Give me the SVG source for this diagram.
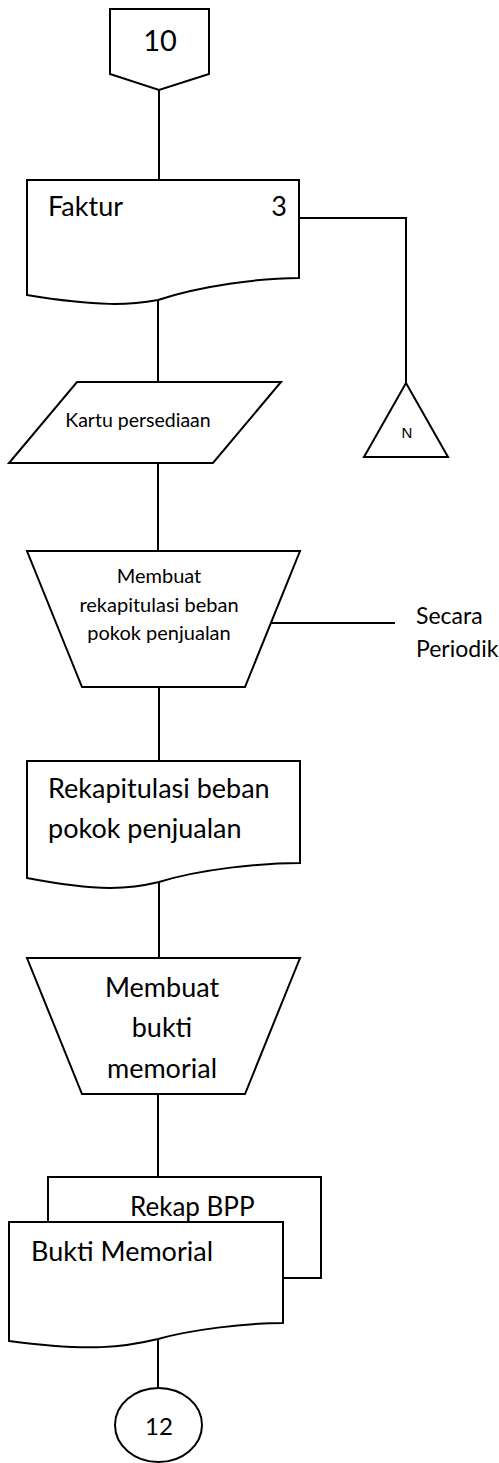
<svg xmlns="http://www.w3.org/2000/svg" width="499" height="1463" viewBox="0 0 499 1463">
  <style>
    .shape { fill: #ffffff; stroke: #000000; stroke-width: 2; stroke-linejoin: miter; }
    .line { fill: none; stroke: #000000; stroke-width: 2; }
    .t { font-family: Lato, "Open Sans", "Liberation Sans", sans-serif; fill: #000000; }
    .mid { text-anchor: middle; }
  </style>
  <rect x="0" y="0" width="499" height="1463" fill="#ffffff"/>

  <!-- connectors -->
  <g id="connectors">
    <path class="line" d="M159,90 V180"/>
    <path class="line" d="M299,218 H406 V383"/>
    <path class="line" d="M158,300 V382"/>
    <path class="line" d="M158,463 V551"/>
    <path class="line" d="M271,623 H395"/>
    <path class="line" d="M159,687 V761"/>
    <path class="line" d="M159,882 V958"/>
    <path class="line" d="M158,1094 V1177"/>
    <path class="line" d="M158,1339 V1388"/>
  </g>

  <!-- off-page connector 10 -->
  <g id="offpage-10">
    <polygon class="shape" points="110,9 209,9 209,74 159,90 110,74"/>
    <text class="t mid" x="160" y="51" font-size="29">10</text>
  </g>

  <!-- document: Faktur 3 -->
  <g id="doc-faktur">
    <path class="shape" d="M27,180 H299 V278 C260,278 200,286 158,300 C130,305 100,307 27,295 Z"/>
    <text class="t" x="48" y="216" font-size="27">Faktur</text>
    <text class="t" x="287" y="216" font-size="27" text-anchor="end">3</text>
  </g>

  <!-- offline storage N -->
  <g id="storage-n">
    <polygon class="shape" points="406,383 448,457 364,457"/>
    <text x="407" y="438" font-size="15" text-anchor="middle" font-family="'Liberation Sans', Arial, sans-serif">N</text>
  </g>

  <!-- input/output: Kartu persediaan -->
  <g id="io-kartu">
    <polygon class="shape" points="77,382 281,382 213,463 9,463"/>
    <text class="t mid" x="138" y="427" font-size="19.5">Kartu persediaan</text>
  </g>

  <!-- manual operation: rekapitulasi -->
  <g id="manual-rekap">
    <polygon class="shape" points="27,551 300,551 245,687 82,687"/>
    <text class="t mid" x="159" y="583" font-size="20">Membuat</text>
    <text class="t mid" x="159" y="612" font-size="20">rekapitulasi beban</text>
    <text class="t mid" x="159" y="640" font-size="20">pokok penjualan</text>
  </g>

  <!-- annotation -->
  <g id="note-periodik">
    <text class="t" x="416" y="624" font-size="23">Secara</text>
    <text class="t" x="416" y="657" font-size="23">Periodik</text>
  </g>

  <!-- document: Rekapitulasi beban pokok penjualan -->
  <g id="doc-rekap">
    <path class="shape" d="M27,761 H300 V863 C261,863 201,869 159,882 C130,889 100,892 27,878 Z"/>
    <text class="t" x="48" y="798" font-size="27">Rekapitulasi beban</text>
    <text class="t" x="48" y="838" font-size="27">pokok penjualan</text>
  </g>

  <!-- manual operation: bukti memorial -->
  <g id="manual-memorial">
    <polygon class="shape" points="27,958 300,958 245,1094 82,1094"/>
    <text class="t mid" x="162" y="997" font-size="27">Membuat</text>
    <text class="t mid" x="162" y="1037" font-size="27">bukti</text>
    <text class="t mid" x="162" y="1078" font-size="27">memorial</text>
  </g>

  <!-- multi-document: Rekap BPP / Bukti Memorial -->
  <g id="multidoc">
    <path class="shape" d="M48,1222 V1177 H321 V1278 H283"/>
    <text class="t" x="130" y="1216" font-size="26">Rekap BPP</text>
    <path class="shape" d="M9,1222 H283 V1323 C244,1323 190,1330 158,1339 C125,1347 90,1352 9,1341 Z"/>
    <text class="t" x="31" y="1261" font-size="27">Bukti Memorial</text>
  </g>

  <!-- on-page connector 12 -->
  <g id="connector-12">
    <ellipse class="shape" cx="158.5" cy="1425" rx="43.5" ry="37"/>
    <text class="t mid" x="159" y="1435" font-size="24">12</text>
  </g>
</svg>
